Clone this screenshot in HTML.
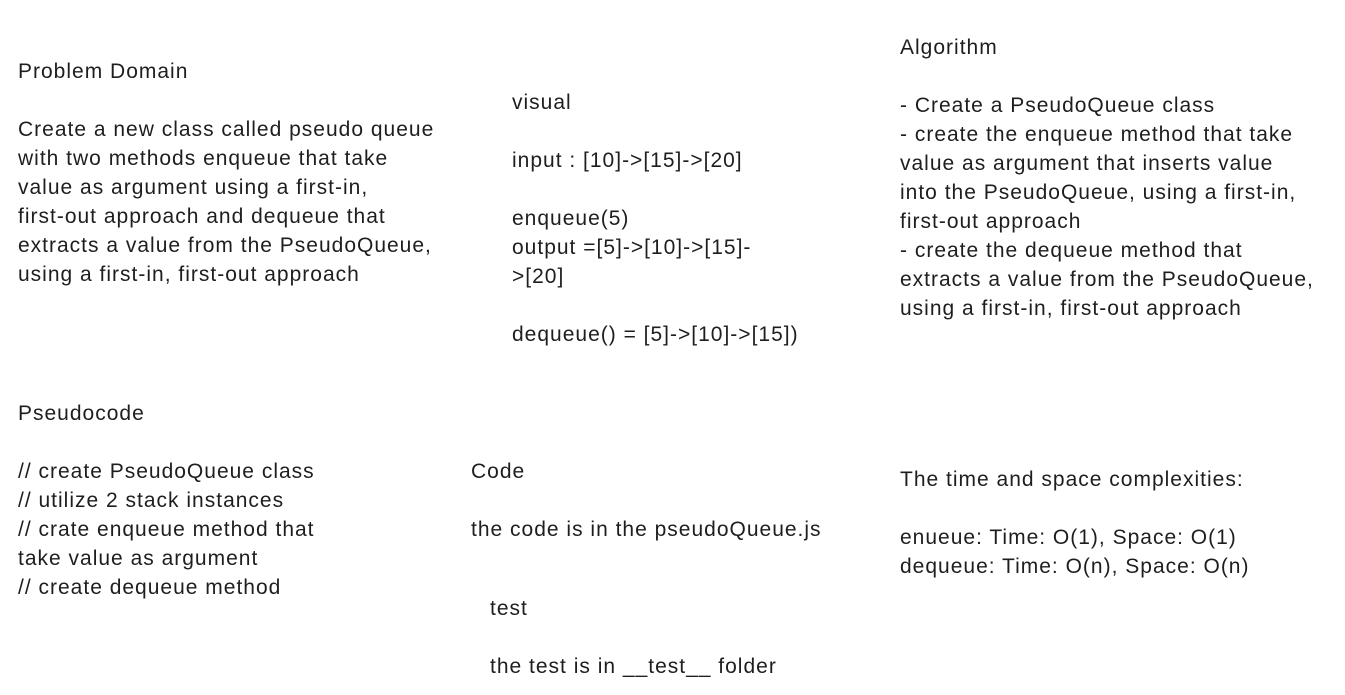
<!DOCTYPE html>
<html><head><meta charset="utf-8"><style>
html,body{margin:0;padding:0;background:#fff;width:1345px;height:695px;overflow:hidden}
.t{position:absolute;font-family:"Liberation Sans",sans-serif;font-size:21px;letter-spacing:1px;line-height:29px;color:#1e1e1e;white-space:pre;margin:0}
</style></head><body>
<div class="t" style="left:18px;top:57px">Problem Domain

Create a new class called pseudo queue
with two methods enqueue that take
value as argument using a first-in,
first-out approach and dequeue that
extracts a value from the PseudoQueue,
using a first-in, first-out approach</div>
<div class="t" style="left:512px;top:88px">visual

input : [10]-&gt;[15]-&gt;[20]

enqueue(5)
output =[5]-&gt;[10]-&gt;[15]-
&gt;[20]

dequeue() = [5]-&gt;[10]-&gt;[15])</div>
<div class="t" style="left:900px;top:33px">Algorithm

- Create a PseudoQueue class
- create the enqueue method that take
value as argument that inserts value
into the PseudoQueue, using a first-in,
first-out approach
- create the dequeue method that
extracts a value from the PseudoQueue,
using a first-in, first-out approach</div>
<div class="t" style="left:18px;top:399px">Pseudocode

// create PseudoQueue class
// utilize 2 stack instances
// crate enqueue method that
take value as argument
// create dequeue method</div>
<div class="t" style="left:471px;top:457px">Code

the code is in the pseudoQueue.js</div>
<div class="t" style="left:490px;top:594px">test

the test is in __test__ folder</div>
<div class="t" style="left:900px;top:465px">The time and space complexities:

enueue: Time: O(1), Space: O(1)
dequeue: Time: O(n), Space: O(n)</div>
</body></html>
